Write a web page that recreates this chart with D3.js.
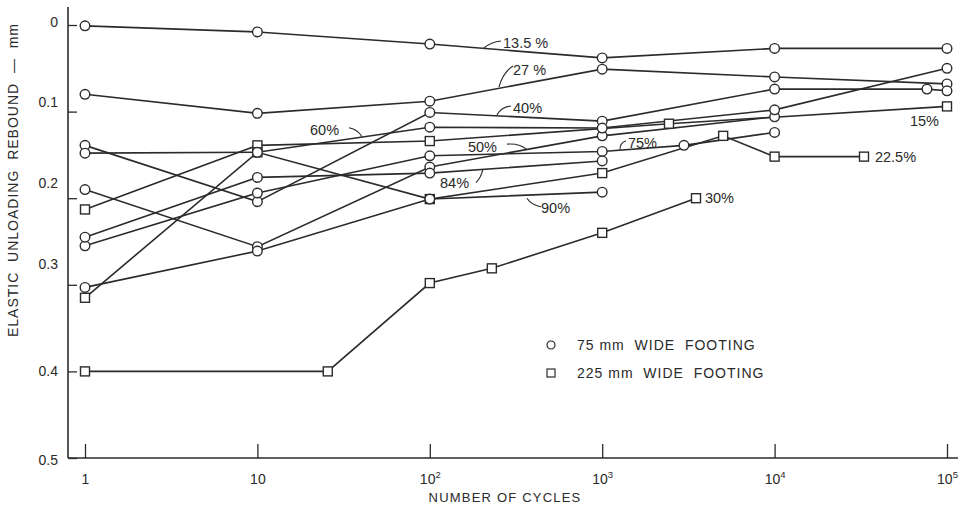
<!DOCTYPE html>
<html>
<head>
<meta charset="utf-8">
<script src="https://cdn.jsdelivr.net/npm/d3@7"></script>
<style>
  html, body { margin: 0; padding: 0; background: #fff; }
  svg { display: block; }
  text { font-family: "Liberation Sans", "DejaVu Sans", sans-serif; fill: #2a2a2a; }
</style>
</head>
<body>
<svg id="chart" width="962" height="510"></svg>
<script>
// Elastic unloading rebound (mm) against number of load cycles.
// Each series: [cycles, rebound in mm].

// 75 mm wide footing (circles)
const circle13_5 = [[1, 0.001], [10, 0.008], [100, 0.022], [1000, 0.038], [1e4, 0.027], [1e5, 0.027]];
const circle27   = [[1, 0.080], [10, 0.102], [100, 0.088], [1000, 0.051], [1e4, 0.060], [1e5, 0.068]];
const circle40   = [[1, 0.139], [10, 0.204], [100, 0.101], [1000, 0.111], [1e4, 0.074], [76500, 0.074], [1e5, 0.076]];
const circle50   = [[1, 0.190], [10, 0.256], [100, 0.164], [1000, 0.128], [1e4, 0.106]];
const circle60   = [[1, 0.148], [10, 0.147], [100, 0.118], [1000, 0.119], [1e4, 0.098], [1e5, 0.050]];
const circle75   = [[1, 0.255], [10, 0.194], [100, 0.151], [1000, 0.146], [2980, 0.139], [1e4, 0.124]];
const circle84   = [[1, 0.245], [10, 0.176], [100, 0.171], [1000, 0.157]];
const circle90   = [[1, 0.303], [10, 0.261], [100, 0.201], [1000, 0.193]];

// 225 mm wide footing (squares)
const square15   = [[1, 0.213], [10, 0.139], [100, 0.134], [2440, 0.114], [1e5, 0.094]];
const square22_5 = [[1, 0.315], [10, 0.147], [100, 0.201], [1000, 0.171], [5030, 0.128], [1e4, 0.152], [33000, 0.152]];
const square30   = [[1, 0.400], [25.6, 0.400], [100, 0.298], [229, 0.281], [1000, 0.240], [3500, 0.200]];

const circleSeries = [circle13_5, circle27, circle40, circle50, circle60, circle75, circle84, circle90];
const squareSeries = [square15, square22_5, square30];

// Axis ticks
const xTicks = [1, 10, 100, 1000, 1e4, 1e5];
const xTickBase = ["1", "10", "10", "10", "10", "10"];
const xTickExp = ["", "", "2", "3", "4", "5"];
const yTicks = [0, 0.1, 0.2, 0.3, 0.4, 0.5];
const yTickLabels = ["0", "0.1", "0.2", "0.3", "0.4", "0.5"];
// hand-lettered tick labels sit a little above some of their ticks (px)
const yTickLabelShift = [-3, -10, -15, -21, 0, 2];

// Percentage labels: text position [cycles, mm], optional leader to a point on the line
const seriesLabels = [
  { text: "13.5 %", at: [266, 0.0208], leader: { from: [-2, -2], ctrl: [-12, -1], to: [206, 0.0266] } },
  { text: "27 %",   at: [304, 0.052],  leader: { from: [0, -4], ctrl: [-10, 2], to: [252, 0.0716] } },
  { text: "40%",    at: [304, 0.0958], leader: { from: [-2, -2], ctrl: [-12, -1], to: [245, 0.104] } },
  { text: "50%",    at: [166.5, 0.141], leader: { from: [39, -3], ctrl: [52, -4], to: [366, 0.144] } },
  { text: "60%",    at: [20.2, 0.121], leader: { from: [39, -2], ctrl: [48, 0], to: [40.4, 0.129] } },
  { text: "75%",    at: [1411, 0.136], leader: { from: [-2, -2], ctrl: [-8, 0], to: [1268, 0.144] } },
  { text: "84%",    at: [114.6, 0.182], leader: { from: [36, 0], ctrl: [41, -5], to: [203, 0.167] } },
  { text: "90%",    at: [441.6, 0.211], leader: { from: [0, -1], ctrl: [-10, -3], to: [366, 0.200] } },
  { text: "30%",    at: [3945, 0.200], leader: null },
  { text: "22.5%",  at: [38200, 0.152], leader: null },
  { text: "15%",    at: [61000, 0.111], leader: null }
];

const legendItems = [
  { shape: "circle", text: "75 mm  WIDE  FOOTING" },
  { shape: "square", text: "225 mm  WIDE  FOOTING" }
];

const ink = "#2b2b2b";
const svg = d3.select("#chart");

const x = d3.scaleLog().domain([1, 1e5]).range([85, 947]);
const y = d3.scaleLinear().domain([0, 0.5]).range([25, 458]);
const axisLeftX = 68, axisBottomY = y(0.5);

// Axis lines
svg.append("line").attr("x1", axisLeftX).attr("x2", axisLeftX).attr("y1", 7).attr("y2", axisBottomY)
  .attr("stroke", ink).attr("stroke-width", 1.6);
svg.append("line").attr("x1", axisLeftX).attr("x2", 958).attr("y1", axisBottomY).attr("y2", axisBottomY)
  .attr("stroke", ink).attr("stroke-width", 1.6);

// X axis (ticks pointing into the plot)
const gx = svg.append("g").attr("transform", `translate(0,${axisBottomY})`)
  .call(d3.axisBottom(x).tickValues(xTicks).tickSize(-14).tickFormat(""));
gx.select(".domain").remove();
gx.selectAll(".tick line").attr("stroke", ink).attr("stroke-width", 1.3);
gx.selectAll(".tick").each(function (d, i) {
  const t = d3.select(this).append("text")
    .attr("y", 26).attr("text-anchor", "middle")
    .attr("font-size", 14).attr("fill", ink);
  t.append("tspan").text(xTickBase[i]);
  if (xTickExp[i]) t.append("tspan").attr("dy", -6).attr("font-size", 9.5).text(xTickExp[i]);
});

// Y axis (ticks pointing into the plot)
const gy = svg.append("g").attr("transform", `translate(${axisLeftX},0)`)
  .call(d3.axisLeft(y).tickValues(yTicks).tickSize(-9).tickPadding(10)
    .tickFormat((d, i) => yTickLabels[i]));
gy.select(".domain").remove();
gy.selectAll(".tick line").attr("stroke", ink).attr("stroke-width", 1.3);
gy.selectAll(".tick text").attr("font-size", 14).attr("fill", ink)
  .attr("y", (d, i) => yTickLabelShift[i])
  .style("font-family", "Liberation Sans, sans-serif");

// Axis titles
svg.append("text").attr("x", 505).attr("y", 502).attr("text-anchor", "middle")
  .attr("font-size", 13).attr("letter-spacing", 1.2).text("NUMBER OF CYCLES");
svg.append("text").attr("transform", "translate(18,180) rotate(-90)").attr("text-anchor", "middle")
  .attr("font-size", 14).attr("letter-spacing", 1).style("white-space", "pre")
  .text("ELASTIC  UNLOADING  REBOUND  —  mm");

// Series lines
const line = d3.line().x(d => x(d[0])).y(d => y(d[1]));
const plot = svg.append("g");
plot.selectAll("path.series").data(circleSeries.concat(squareSeries)).join("path")
  .attr("class", "series").attr("d", line)
  .attr("fill", "none").attr("stroke", ink).attr("stroke-width", 1.6);

// Markers
const side = 9;
squareSeries.forEach(s => {
  plot.append("g").selectAll("rect").data(s).join("rect")
    .attr("x", d => x(d[0]) - side / 2).attr("y", d => y(d[1]) - side / 2)
    .attr("width", side).attr("height", side)
    .attr("fill", "#fff").attr("stroke", ink).attr("stroke-width", 1.4);
});
circleSeries.forEach(s => {
  plot.append("g").selectAll("circle").data(s).join("circle")
    .attr("cx", d => x(d[0])).attr("cy", d => y(d[1])).attr("r", 4.8)
    .attr("fill", "#fff").attr("stroke", ink).attr("stroke-width", 1.4);
});

// Percentage labels and leaders
seriesLabels.forEach(l => {
  const tx = x(l.at[0]), ty = y(l.at[1]);
  svg.append("text").attr("x", tx).attr("y", ty).attr("dy", "0.36em")
    .attr("font-size", 14.5).attr("fill", ink).text(l.text);
  if (l.leader) {
    const ex = x(l.leader.to[0]), ey = y(l.leader.to[1]);
    const sx = tx + l.leader.from[0], sy = ty + l.leader.from[1];
    const cx = tx + l.leader.ctrl[0], cy = ty + l.leader.ctrl[1];
    svg.append("path").attr("d", `M${sx},${sy}Q${cx},${cy} ${ex},${ey}`)
      .attr("fill", "none").attr("stroke", ink).attr("stroke-width", 1.1);
  }
});

// Legend
const legend = svg.append("g").attr("transform", "translate(551,345)");
legendItems.forEach((item, i) => {
  const g = legend.append("g").attr("transform", `translate(0,${i * 28})`);
  if (item.shape === "circle") {
    g.append("circle").attr("r", 4).attr("fill", "#fff").attr("stroke", ink).attr("stroke-width", 1.2);
  } else {
    g.append("rect").attr("x", -4).attr("y", -4).attr("width", 8).attr("height", 8)
      .attr("fill", "#fff").attr("stroke", ink).attr("stroke-width", 1.2);
  }
  g.append("text").attr("x", 26).attr("dy", "0.36em").attr("font-size", 14)
    .attr("letter-spacing", 1).style("white-space", "pre").text(item.text);
});
</script>
</body>
</html>
